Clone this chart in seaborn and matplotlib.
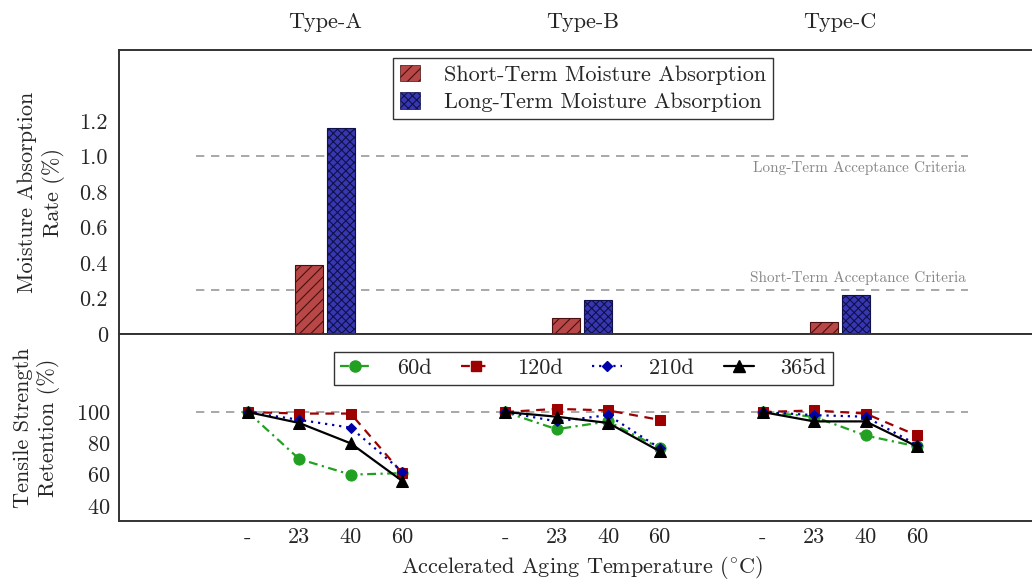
import matplotlib
matplotlib.use("Agg")
import matplotlib.pyplot as plt
from matplotlib.lines import Line2D
import pandas as pd
import seaborn as sns

# ---- data -------------------------------------------------------------
types = ["Type-A", "Type-B", "Type-C"]
short_term = [0.39, 0.09, 0.07]
long_term = [1.16, 0.19, 0.22]
short_criteria = 0.25
long_criteria = 1.0

moisture_ticks = [0, 0.2, 0.4, 0.6, 0.8, 1.0, 1.2]
moisture_tick_labels = ["0", "0.2", "0.4", "0.6", "0.8", "1.0", "1.2"]

temps = ["-", "23", "40", "60"]
durations = ["60d", "120d", "210d", "365d"]
# tensile strength retention (%) per type, over the temperature steps
ret_60d = [[100, 70, 60, 61], [100, 89, 94, 77], [100, 97, 85, 78]]
ret_120d = [[100, 99, 99, 61], [100, 102, 101, 95], [100, 101, 99, 85]]
ret_210d = [[100, 95, 90, 62], [100, 94, 98, 77], [100, 98, 97, 79]]
ret_365d = [[100, 93, 80, 56], [100, 97, 93, 75], [100, 94, 94, 78]]
retention_ref = 100
retention_ticks = [40, 60, 80, 100]

# ---- style ------------------------------------------------------------
sns.set_theme(style="white")
plt.rcParams["font.family"] = ["cmr10", "DejaVu Serif"]
plt.rcParams["mathtext.fontset"] = "cm"
plt.rcParams["axes.unicode_minus"] = False
plt.rcParams["axes.formatter.use_mathtext"] = True
plt.rcParams["hatch.linewidth"] = 0.8

FS = 16
GROUP_STEP = 5
spine_col = "#333333"
ref_col = "#9a9a9a"

fig = plt.figure(figsize=(10.32, 5.82), dpi=100)
ax_top = fig.add_axes([0.1153, 0.4261, 0.897, 0.4880])
ax_bot = fig.add_axes([0.1153, 0.1048, 0.897, 0.3213])
xlim = (-2.5, 15.48)

# ---- moisture absorption bars ----------------------------------------
centers = [GROUP_STEP * i + 1.5 for i in range(len(types))]
bar_df = pd.DataFrame({
    "pos": centers * 2,
    "rate": short_term + long_term,
    "term": ["Short-Term Moisture Absorption"] * len(types)
            + ["Long-Term Moisture Absorption"] * len(types),
})
bar_fill = ["#b84747", "#3737b2"]
bar_hatch = ["///", "xxxx"]
bar_hcol = ["#4a1010", "#10104a"]
bar_edge = ["#d86a6a", "#6a6ae8"]
sns.barplot(data=bar_df, x="pos", y="rate", hue="term", native_scale=True,
            palette=bar_fill, width=0.2485, gap=0.125, saturation=1,
            ax=ax_top, legend=False)
for k, cont in enumerate(ax_top.containers):
    for p in cont:
        p.set_hatch(bar_hatch[k])
        if hasattr(p, "set_hatchcolor"):
            p.set_hatchcolor(bar_hcol[k])
            p.set_edgecolor(bar_edge[k])
        else:
            p.set_edgecolor(bar_hcol[k])
        p.set_linewidth(0.8)

for yv in (long_criteria, short_criteria):
    ax_top.plot([-1, 14], [yv, yv], color=ref_col, lw=1.2, dashes=(5, 4), zorder=0.5)
ax_top.text(13.95, long_criteria - 0.025, "Long-Term Acceptance Criteria",
            ha="right", va="top", color="#888888", fontsize=11)
ax_top.text(13.95, short_criteria + 0.025, "Short-Term Acceptance Criteria",
            ha="right", va="bottom", color="#888888", fontsize=11)

ax_top.set_xlim(*xlim)
ax_top.set_ylim(0, 1.6)
ax_top.set_yticks(moisture_ticks)
ax_top.set_yticklabels(moisture_tick_labels)
ax_top.set_xticks(centers)
ax_top.set_xticklabels(types)
ax_top.xaxis.tick_top()
ax_top.tick_params(axis="x", length=0, pad=13, labelsize=FS)
ax_top.tick_params(axis="y", length=0, pad=8, labelsize=FS)
ax_top.set_xlabel("")
ax_top.set_ylabel("Moisture Absorption\nRate (%)", fontsize=FS, labelpad=10,
                  linespacing=1.3)

bar_handles = [plt.Rectangle((0, 0), 1, 1, facecolor=bar_fill[k], hatch=bar_hatch[k],
                             edgecolor=bar_hcol[k], lw=0.5) for k in range(2)]
leg1 = ax_top.legend(bar_handles, ["Short-Term Moisture Absorption",
                                   "Long-Term Moisture Absorption"],
                     loc="upper center", bbox_to_anchor=(0.5016, 0.972),
                     borderaxespad=0, fontsize=FS, frameon=True, fancybox=False,
                     edgecolor="black", handlelength=0.9, handleheight=0.75,
                     handletextpad=1.1, borderpad=0.3, labelspacing=0.35)
leg1.get_frame().set_linewidth(1.0)

# ---- tensile strength retention lines --------------------------------
series = {"60d": ret_60d, "120d": ret_120d, "210d": ret_210d, "365d": ret_365d}
rows = []
for d in durations:
    for i, t in enumerate(types):
        for j, temp in enumerate(temps):
            rows.append({"duration": d, "type": t,
                         "pos": GROUP_STEP * i + j, "retention": series[d][i][j]})
line_df = pd.DataFrame(rows)

line_style = {
    "60d": dict(color="#22a022", marker="o", markersize=8, dashes=(4, 2, 1, 2)),
    "120d": dict(color="#9c0000", marker="s", markersize=7.5, dashes=(4, 3)),
    "210d": dict(color="#0000a8", marker="D", markersize=5.5, dashes=(1, 2.2)),
    "365d": dict(color="black", marker="^", markersize=8, dashes=(None, None)),
}

ax_bot.plot([-1, 14], [retention_ref, retention_ref], color=ref_col, lw=1.2,
            dashes=(5, 4), zorder=0.5)
handles = []
for d in durations:
    st = line_style[d]
    sns.lineplot(data=line_df[line_df["duration"] == d], x="pos", y="retention",
                 units="type", estimator=None, sort=False, color=st["color"],
                 marker=st["marker"], markersize=st["markersize"],
                 markeredgecolor=st["color"], lw=1.6, ax=ax_bot, legend=False)
    for l in ax_bot.lines[-len(types):]:
        if st["dashes"][0] is not None:
            l.set_dashes(st["dashes"])
    h = Line2D([], [], color=st["color"], marker=st["marker"],
               markersize=st["markersize"], lw=1.6)
    if st["dashes"][0] is not None:
        h.set_dashes(st["dashes"])
    handles.append(h)

positions = [GROUP_STEP * i + j for i in range(len(types)) for j in range(len(temps))]
ax_bot.set_xlim(*xlim)
ax_bot.set_ylim(30.4, 149.8)
ax_bot.set_xticks(positions)
ax_bot.set_xticklabels(temps * len(types))
ax_bot.set_yticks(retention_ticks)
ax_bot.tick_params(axis="x", direction="in", length=10, width=1, color="#b5b5b5",
                   pad=5, labelsize=FS)
ax_bot.tick_params(axis="y", direction="in", length=5, width=1, color="#b5b5b5",
                   pad=6, labelsize=FS)
ax_bot.set_ylabel("Tensile Strength\nRetention (%)", fontsize=FS, labelpad=12,
                  linespacing=1.2)
ax_bot.set_xlabel("Accelerated Aging Temperature ($^{\\circ}$C)", fontsize=FS,
                  labelpad=5)

leg2 = ax_bot.legend(handles, durations, loc="upper center",
                     bbox_to_anchor=(0.5016, 0.904), borderaxespad=0, ncol=4,
                     fontsize=FS, frameon=True, fancybox=False, edgecolor="black",
                     handlelength=1.35, handletextpad=1.2, columnspacing=1.3,
                     borderpad=0.3)
leg2.get_frame().set_linewidth(1.0)

for ax in (ax_top, ax_bot):
    for s in ax.spines.values():
        s.set_color(spine_col)
        s.set_linewidth(1.4)

fig.savefig("out.png", dpi=100)
